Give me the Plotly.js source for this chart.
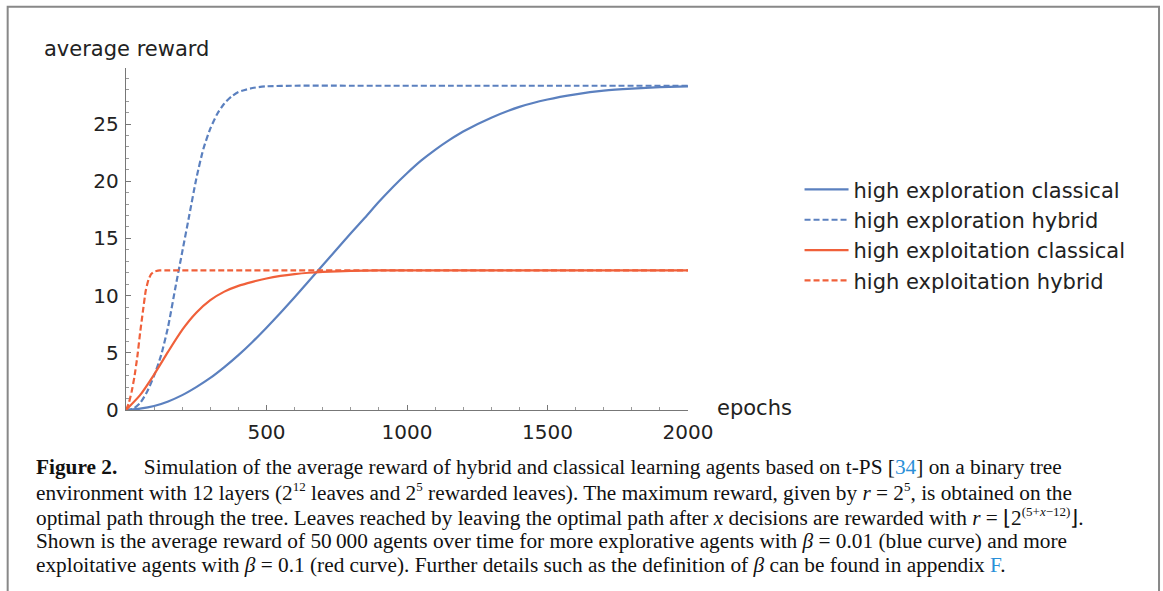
<!DOCTYPE html>
<html>
<head>
<meta charset="utf-8">
<script src="https://cdn.plot.ly/plotly-3.0.1.min.js"></script>
<style>
html,body{margin:0;padding:0;background:#fff;}
#chart{width:1163px;height:591px;}
</style>
</head>
<body>
<div id="chart"></div>
<script>
// ---- data ----
const explClassicalX = [0, 50, 100, 150, 200, 250, 300, 350, 400, 450, 500, 550, 600, 650, 700, 750, 800, 850, 900, 950, 1000, 1050, 1100, 1150, 1200, 1300, 1400, 1500, 1600, 1700, 1800, 1900, 2000];
const explClassicalY = [0, 0.12, 0.35, 0.75, 1.3, 2.0, 2.8, 3.75, 4.8, 5.95, 7.2, 8.5, 9.85, 11.25, 12.65, 14.05, 15.45, 16.8, 18.2, 19.5, 20.7, 21.8, 22.75, 23.6, 24.35, 25.55, 26.5, 27.15, 27.6, 27.92, 28.1, 28.22, 28.3];

const explHybridX = [0, 25, 50, 75, 100, 125, 150, 175, 200, 225, 250, 275, 300, 325, 350, 375, 400, 450, 500, 600, 800, 1200, 1600, 2000];
const explHybridY = [0, 0.1, 0.6, 1.6, 3.0, 4.8, 7.3, 10.6, 13.8, 17.0, 20.2, 22.8, 24.6, 25.9, 26.8, 27.4, 27.8, 28.15, 28.3, 28.35, 28.35, 28.35, 28.35, 28.35];

const exploitClassicalX = [0, 50, 100, 150, 200, 250, 300, 350, 400, 450, 500, 550, 600, 650, 700, 800, 900, 1200, 1600, 2000];
const exploitClassicalY = [0, 1.3, 3.1, 5.1, 7.0, 8.5, 9.6, 10.35, 10.85, 11.2, 11.5, 11.72, 11.88, 12.0, 12.08, 12.16, 12.2, 12.2, 12.2, 12.2];

const exploitHybridX = [0, 10, 20, 30, 40, 50, 60, 70, 80, 90, 100, 120, 150, 300, 600, 1000, 1500, 2000];
const exploitHybridY = [0, 0.6, 1.6, 2.9, 4.6, 6.7, 8.6, 10.4, 11.4, 11.9, 12.1, 12.2, 12.2, 12.2, 12.2, 12.2, 12.2, 12.2];

const seriesNames = ["high exploration classical", "high exploration hybrid", "high exploitation classical", "high exploitation hybrid"];
const xTickVals = [500, 1000, 1500, 2000];
const yTickVals = [0, 5, 10, 15, 20, 25];
const xAxisLabel = "epochs";
const yAxisLabel = "average reward";
const SUP = s => "<sup><span style='font-size:13px'>" + s + "</span></sup>";
const captionLines = [
  "<b>Figure 2.</b>\u00a0\u00a0\u00a0\u00a0\u00a0Simulation of the average reward of hybrid and classical learning agents based on t-PS [<span style='color:#2a8fd8'>34</span>] on a binary tree",
  "environment with 12 layers (2" + SUP("12") + " leaves and 2" + SUP("5") + " rewarded leaves). The maximum reward, given by <i>r</i> = 2" + SUP("5") + ", is obtained on the",
  "optimal path through the tree. Leaves reached by leaving the optimal path after <i>x</i> decisions are rewarded with <i>r</i> = ⌊2" + SUP("(5+<i>x</i>−12)") + "⌋.",
  "Shown is the average reward of 50\u2009000 agents over time for more explorative agents with <i>β</i> = 0.01 (blue curve) and more",
  "exploitative agents with <i>β</i> = 0.1 (red curve). Further details such as the definition of <i>β</i> can be found in appendix <span style='color:#2a8fd8'>F</span>."
];

// ---- layout geometry (pixels) ----
const W = 1163, H = 591;
const L = 125.5, R = 688.3, T = 68.3, B = 410;
const pw = R - L, ph = B - T;
const px2x = p => (p - L) / pw;
const py2y = p => (B - p) / ph;

const BLUE = "#5b80bf";
const RED = "#f0603a";

const traces = [
  {x: explClassicalX, y: explClassicalY, name: seriesNames[0], mode: "lines",
   line: {color: BLUE, width: 2.2, shape: "spline", smoothing: 0.6}},
  {x: explHybridX, y: explHybridY, name: seriesNames[1], mode: "lines",
   line: {color: BLUE, width: 2.2, dash: "6px,3px", shape: "spline", smoothing: 0.6}},
  {x: exploitClassicalX, y: exploitClassicalY, name: seriesNames[2], mode: "lines",
   line: {color: RED, width: 2.2, shape: "spline", smoothing: 0.6}},
  {x: exploitHybridX, y: exploitHybridY, name: seriesNames[3], mode: "lines",
   line: {color: RED, width: 2.2, dash: "6px,3px", shape: "spline", smoothing: 0.4}}
];

const axisCommon = {
  showgrid: false, zeroline: false, showline: true,
  linecolor: "#777", linewidth: 1.3,
  ticks: "inside", ticklen: 5, tickwidth: 1, tickcolor: "#777",
  tickfont: {family: "DejaVu Sans", size: 20, color: "#222"},
  tickmode: "array", fixedrange: true
};

const annotations = [
  {text: yAxisLabel, xref: "paper", yref: "paper", x: px2x(41), y: py2y(49),
   xanchor: "left", yanchor: "middle", showarrow: false,
   font: {family: "DejaVu Sans", size: 21, color: "#222"}},
  {text: xAxisLabel, xref: "paper", yref: "paper", x: px2x(715), y: py2y(408),
   xanchor: "left", yanchor: "middle", showarrow: false,
   font: {family: "DejaVu Sans", size: 21, color: "#222"}}
];
const capY = [467, 492, 517, 541, 565];
captionLines.forEach((t, i) => {
  annotations.push({text: t, xref: "paper", yref: "paper", x: px2x(33), y: py2y(capY[i]),
    xanchor: "left", yanchor: "middle", showarrow: false, align: "left",
    font: {family: "Liberation Serif", size: 21.3, color: "#111"}});
});

const layout = {
  width: W, height: H,
  paper_bgcolor: "#fff", plot_bgcolor: "#fff",
  margin: {l: L, r: W - R, t: T, b: H - B, pad: 0},
  showlegend: true,
  legend: {x: px2x(800), y: py2y(169.5), xanchor: "left", yanchor: "top",
    font: {family: "DejaVu Sans", size: 21, color: "#222"},
    bgcolor: "rgba(0,0,0,0)", itemwidth: 44, tracegroupgap: 0},
  xaxis: Object.assign({}, axisCommon, {range: [0, 2000], tickvals: xTickVals,
    ticktext: xTickVals.map(String), ticklabelstandoff: 4,
    minor: {tickmode: "linear", tick0: 0, dtick: 100, ticks: "inside", ticklen: 3, tickcolor: "#999"}}),
  yaxis: Object.assign({}, axisCommon, {range: [0, 29.9], tickvals: yTickVals,
    ticktext: yTickVals.map(String), ticklabelstandoff: 2,
    minor: {tickmode: "linear", tick0: 0, dtick: 1, ticks: "inside", ticklen: 3, tickcolor: "#999"}}),
  annotations: annotations,
  shapes: [
    {type: "path", xref: "paper", yref: "paper",
     path: `M ${px2x(7)},${py2y(600)} L ${px2x(7)},${py2y(7)} L ${px2x(1160)},${py2y(7)} L ${px2x(1160)},${py2y(600)}`,
     line: {color: "#888", width: 2}}
  ]
};

Plotly.newPlot("chart", traces, layout, {displayModeBar: false, staticPlot: true});
</script>
</body>
</html>
